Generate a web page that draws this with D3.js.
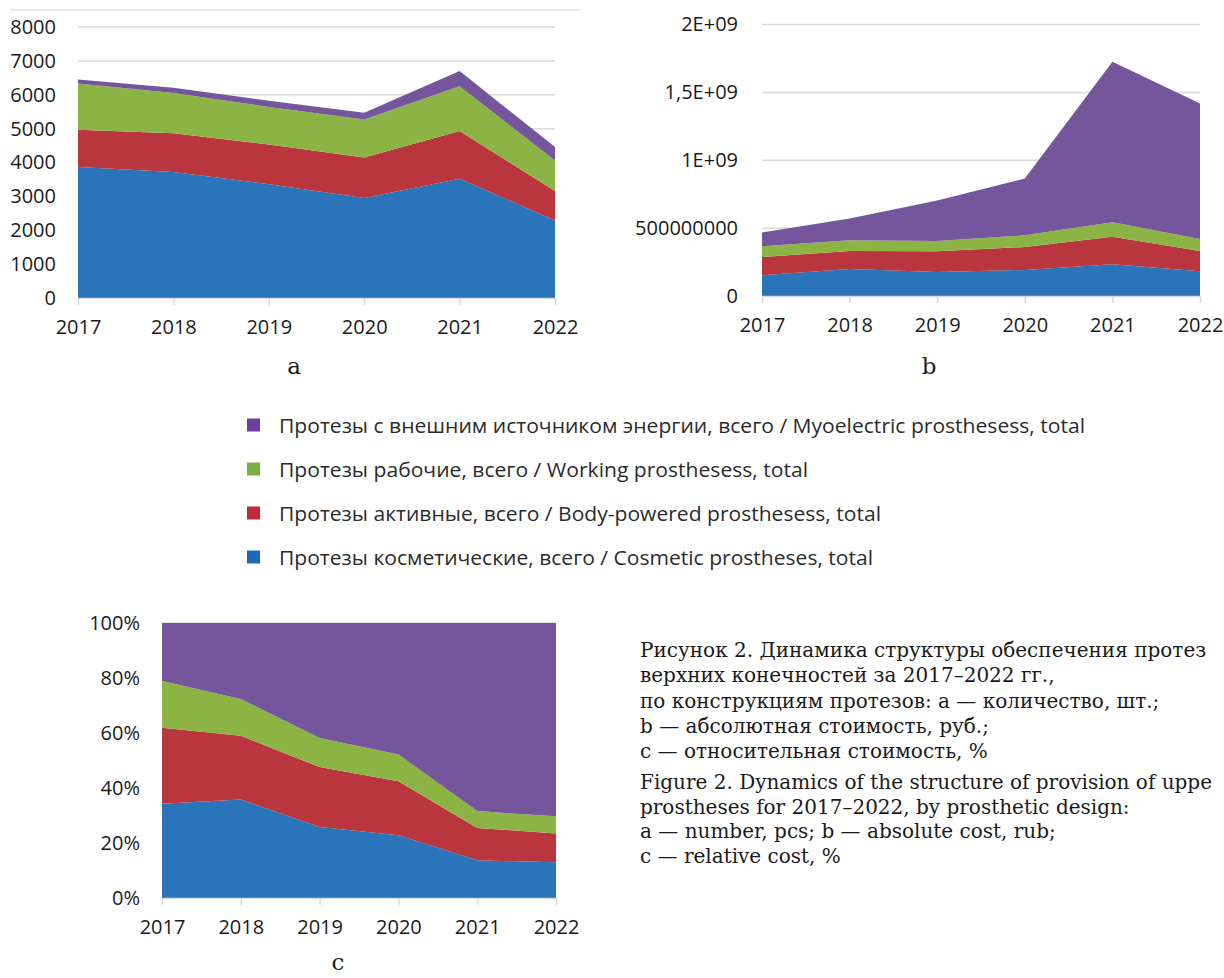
<!DOCTYPE html>
<html><head><meta charset="utf-8">
<script src="https://cdn.jsdelivr.net/npm/d3@7"></script>
<style>body{margin:0;background:#fff}</style>
</head><body>
<svg id="fig" width="1224" height="978" xmlns="http://www.w3.org/2000/svg"></svg>
<script>
// ---------- data ----------
const years = [2017, 2018, 2019, 2020, 2021, 2022];
const seriesKeys = ["cosmetic", "body", "working", "myo"];
const areaColors = ["#2a75b9", "#b9363f", "#8cb445", "#75559b"];
const legendColors = ["#1f69bd", "#c12a36", "#7bb144", "#6a3fa0"];
const legendLabels = [
  "Протезы косметические, всего / Cosmetic prostheses, total",
  "Протезы активные, всего / Body-powered prosthesess, total",
  "Протезы рабочие, всего / Working prosthesess, total",
  "Протезы с внешним источником энергии, всего / Myoelectric prosthesess, total"
];

// a — number, pcs
const cosmeticCount = [3870, 3720, 3360, 2950, 3520, 2290];
const bodyCount     = [1100, 1140, 1170, 1200, 1410, 870];
const workingCount  = [1360, 1190, 1110, 1120, 1320, 900];
const myoCount      = [120, 160, 180, 200, 450, 400];
const countTicks = [0, 1000, 2000, 3000, 4000, 5000, 6000, 7000, 8000];
const countTickLabels = ["0", "1000", "2000", "3000", "4000", "5000", "6000", "7000", "8000"];

// b — absolute cost, rub
const cosmeticCost = [152e6, 199e6, 177e6, 192e6, 233e6, 182e6];
const bodyCost     = [135e6, 133e6, 152e6, 169e6, 204e6, 150e6];
const workingCost  = [79e6, 78e6, 76e6, 86e6, 106e6, 88e6];
const myoCost      = [101e6, 160e6, 298e6, 418e6, 1182e6, 998e6];
const costTicks = [0, 5e8, 1e9, 1.5e9, 2e9];
const costTickLabels = ["0", "500000000", "1E+09", "1,5E+09", "2E+09"];

// c — relative cost, %
const cosmeticShare = [34.3, 35.8, 25.8, 22.8, 13.7, 13.0];
const bodyShare     = [27.6, 23.2, 21.8, 19.7, 11.8, 10.5];
const workingShare  = [17.0, 13.4, 10.6, 9.7, 6.1, 6.2];
const myoShare      = [21.1, 27.6, 41.8, 47.8, 68.4, 70.3];
const shareTicks = [0, 20, 40, 60, 80, 100];
const shareTickLabels = ["0%", "20%", "40%", "60%", "80%", "100%"];

const captionLines = [
  "Рисунок 2. Динамика структуры обеспечения протез",
  "верхних конечностей за 2017–2022 гг.,",
  "по конструкциям протезов: а — количество, шт.;",
  "b — абсолютная стоимость, руб.;",
  "c — относительная стоимость, %"
];
const captionLinesEn = [
  "Figure 2. Dynamics of the structure of provision of uppe",
  "prostheses for 2017–2022, by prosthetic design:",
  "a — number, pcs; b — absolute cost, rub;",
  "c — relative cost, %"
];

// ---------- drawing ----------
const svg = d3.select("#fig");
const tickFont = "'Open Sans', 'Noto Sans', sans-serif";
const serifFont = "'DejaVu Serif', serif";
const gridColor = "#d9d9d9";
const textColor = "#1a1a1a";

function drawPanel(cfg) {
  const g = svg.append("g");
  const rows = years.map((yr, i) => {
    const r = { year: yr };
    seriesKeys.forEach((k, j) => r[k] = cfg.series[j][i]);
    return r;
  });
  const x = d3.scalePoint().domain(years).range([cfg.x0, cfg.x1]);
  const y = d3.scaleLinear().domain([0, cfg.max]).range([cfg.yBottom, cfg.yTop]);

  // gridlines
  g.append("g").selectAll("line").data(cfg.ticks.filter(t => t > 0)).join("line")
    .attr("x1", cfg.x0).attr("x2", cfg.x1)
    .attr("y1", d => y(d)).attr("y2", d => y(d))
    .attr("stroke", gridColor).attr("stroke-width", 1.5);

  // stacked areas
  const stacked = d3.stack().keys(seriesKeys)(rows);
  const area = d3.area()
    .x(d => x(d.data.year))
    .y0(d => y(d[0]))
    .y1(d => y(d[1]));
  g.append("g").selectAll("path").data(stacked).join("path")
    .attr("d", area)
    .attr("fill", (d, i) => areaColors[i]);

  // y axis labels
  const yAxis = d3.axisLeft(y).tickValues(cfg.ticks).tickSize(0).tickPadding(cfg.labelPad)
    .tickFormat((d, i) => cfg.tickLabels[i]);
  const ya = g.append("g").attr("transform", `translate(${cfg.x0},0)`).call(yAxis);
  ya.select(".domain").remove();
  ya.selectAll("text").attr("font-family", tickFont).attr("font-size", 20).attr("fill", textColor);

  // x axis
  const xAxis = d3.axisBottom(x).tickSize(7).tickPadding(15).tickSizeOuter(0);
  const xa = g.append("g").attr("transform", `translate(0,${cfg.yBottom})`).call(xAxis);
  xa.select(".domain").attr("stroke", gridColor).attr("stroke-width", 1.5);
  xa.selectAll(".tick line").attr("stroke", gridColor).attr("stroke-width", 1.5);
  xa.selectAll("text").attr("font-family", tickFont).attr("font-size", 20).attr("fill", textColor);

  // panel letter
  g.append("text").attr("x", cfg.letterX).attr("y", cfg.letterY)
    .attr("text-anchor", "middle").attr("dominant-baseline", "central")
    .attr("font-family", serifFont).attr("font-size", 23).attr("fill", textColor)
    .text(cfg.letter);
}

// top frame line of panel a
svg.append("line").attr("x1", 10).attr("x2", 581).attr("y1", 10).attr("y2", 10)
  .attr("stroke", "#e3e3e3").attr("stroke-width", 1.5);

drawPanel({
  series: [cosmeticCount, bodyCount, workingCount, myoCount],
  x0: 78, x1: 555, yTop: 27, yBottom: 298, max: 8000,
  ticks: countTicks, tickLabels: countTickLabels, labelPad: 22,
  letter: "a", letterX: 294, letterY: 366
});
drawPanel({
  series: [cosmeticCost, bodyCost, workingCost, myoCost],
  x0: 762, x1: 1200, yTop: 24.5, yBottom: 296, max: 2e9,
  ticks: costTicks, tickLabels: costTickLabels, labelPad: 24,
  letter: "b", letterX: 929, letterY: 366
});
drawPanel({
  series: [cosmeticShare, bodyShare, workingShare, myoShare],
  x0: 162, x1: 556, yTop: 623, yBottom: 898, max: 100,
  ticks: shareTicks, tickLabels: shareTickLabels, labelPad: 22,
  letter: "c", letterX: 338, letterY: 962
});

// legend (top item is last series)
const legendRows = [3, 2, 1, 0];
const legendY = [425, 469, 513, 557];
const legendW = [806, 529, 602, 594];
const lg = svg.append("g");
legendRows.forEach((si, r) => {
  lg.append("rect").attr("x", 247).attr("y", legendY[r] - 6.5).attr("width", 13).attr("height", 13)
    .attr("fill", legendColors[si]);
  lg.append("text").attr("x", 279).attr("y", legendY[r]).attr("dominant-baseline", "central")
    .attr("font-family", tickFont).attr("font-size", 20).attr("fill", "#2b2b2b")
    .attr("textLength", legendW[r]).attr("lengthAdjust", "spacingAndGlyphs")
    .text(legendLabels[si]);
});

// caption
const cap = svg.append("g").attr("font-family", serifFont).attr("font-size", 20).attr("fill", textColor);
captionLines.forEach((t, i) => {
  cap.append("text").attr("x", 640).attr("y", 650 + i * 25.3).attr("dominant-baseline", "central").text(t);
});
captionLinesEn.forEach((t, i) => {
  cap.append("text").attr("x", 640).attr("y", 782 + i * 24.5).attr("dominant-baseline", "central").text(t);
});
</script>
</body></html>
